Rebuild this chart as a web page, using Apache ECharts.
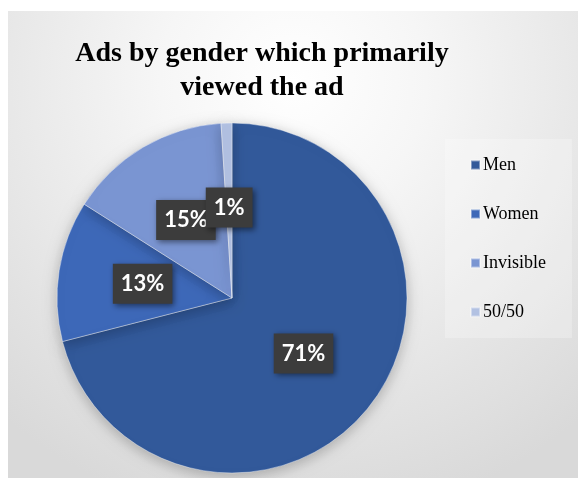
<!DOCTYPE html>
<html lang="en">
<head>
    <meta charset="UTF-8">
    <title>Ads by gender which primarily viewed the ad</title>
    <script src="https://cdn.jsdelivr.net/npm/echarts@6/dist/echarts.min.js"></script>
    <style>
        html, body { margin: 0; padding: 0; background: #fff; }
        #chart { width: 584px; height: 478px; }
    </style>
</head>
<body>
    <div id="chart"></div>
    <script>
        // data
        const categories = ['Men', 'Women', 'Invisible', '50/50'];
        const shares = [71, 13, 15, 1];
        const colors = ['#32599a', '#3d68b8', '#7a95d2', '#b2c1e2'];

        const chart = echarts.init(document.getElementById('chart'));
        const option = {
            backgroundColor: '#fff',
            graphic: [{
                type: 'rect',
                z: -10,
                shape: { x: 8, y: 11, width: 570, height: 467 },
                style: {
                    fill: {
                        type: 'radial', x: 0.5, y: 0.15, r: 0.95,
                        colorStops: [
                            { offset: 0, color: '#ffffff' },
                            { offset: 0.3, color: '#f6f6f6' },
                            { offset: 1, color: '#d9d9d9' }
                        ]
                    }
                }
            }],
            title: {
                text: 'Ads by gender which primarily\nviewed the ad',
                left: 257,
                top: 32,
                textAlign: 'center',
                textStyle: {
                    fontFamily: 'Liberation Serif',
                    fontWeight: 'bold',
                    fontSize: 28,
                    lineHeight: 34,
                    color: '#000'
                }
            },
            legend: {
                orient: 'vertical',
                left: 445,
                top: 139,
                itemWidth: 9,
                itemHeight: 9,
                itemGap: 31,
                icon: 'rect',
                padding: [17, 26, 17, 25],
                backgroundColor: 'rgba(255,255,255,0.25)',
                data: categories,
                textStyle: {
                    fontFamily: 'Liberation Serif',
                    fontSize: 18,
                    color: '#000',
                    padding: [0, 0, 0, -2]
                }
            },
            series: [{
                type: 'pie',
                center: [232, 298],
                radius: 175,
                startAngle: 90,
                clockwise: true,
                avoidLabelOverlap: false,
                labelLayout: { hideOverlap: false },
                itemStyle: {
                    borderColor: 'rgba(255,255,255,0.4)',
                    borderWidth: 1,
                    shadowBlur: 14,
                    shadowColor: 'rgba(0,0,0,0.25)',
                    shadowOffsetY: 3
                },
                label: {
                    show: true,
                    position: 'inside',
                    formatter: '{c}%',
                    fontFamily: 'Lato',
                    fontWeight: 'bold',
                    fontSize: 22,
                    color: '#fff',
                    backgroundColor: '#3c3c3c',
                    padding: [10, 8, 8, 8],
                    shadowBlur: 6,
                    shadowColor: 'rgba(0,0,0,0.5)',
                    shadowOffsetX: 2,
                    shadowOffsetY: 2
                },
                labelLine: { show: false },
                emphasis: { disabled: true },
                data: categories.map((name, i) => ({
                    name: name,
                    value: shares[i],
                    itemStyle: { color: colors[i] }
                }))
            }]
        };
        chart.setOption(option);
    </script>
</body>
</html>
